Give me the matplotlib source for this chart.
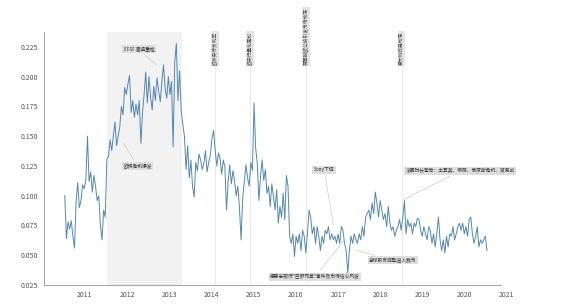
import numpy as np
import pandas as pd
import matplotlib
matplotlib.use('Agg')
import matplotlib.pyplot as plt

plt.rcParams['font.family'] = ['Noto Sans CJK SC', 'DejaVu Sans']

# biweekly index values, mid 2010 -> mid 2020
start = '2010-07-11'
values = [
    0.100, 0.064, 0.078, 0.072, 0.079, 0.066, 0.056, 0.095, 0.111, 0.090,
    0.096, 0.109, 0.106, 0.113, 0.150, 0.112, 0.120, 0.103, 0.117, 0.108,
    0.096, 0.100, 0.075, 0.063, 0.088, 0.082, 0.131, 0.133, 0.147, 0.138,
    0.150, 0.162, 0.142, 0.150, 0.158, 0.175, 0.168, 0.191, 0.185, 0.194,
    0.201, 0.170, 0.180, 0.166, 0.177, 0.168, 0.180, 0.144, 0.170, 0.185,
    0.204, 0.178, 0.200, 0.183, 0.172, 0.192, 0.180, 0.199, 0.188, 0.179,
    0.196, 0.210, 0.190, 0.182, 0.200, 0.185, 0.196, 0.141, 0.212, 0.228,
    0.180, 0.205, 0.172, 0.160, 0.150, 0.122, 0.142, 0.115, 0.130, 0.108,
    0.099, 0.128, 0.121, 0.135, 0.130, 0.122, 0.127, 0.138, 0.120, 0.128,
    0.134, 0.148, 0.155, 0.138, 0.125, 0.136, 0.131, 0.118, 0.130, 0.124,
    0.088, 0.112, 0.126, 0.110, 0.121, 0.112, 0.100, 0.108, 0.090, 0.063,
    0.098, 0.112, 0.126, 0.115, 0.108, 0.128, 0.121, 0.178, 0.140, 0.127,
    0.096, 0.116, 0.130, 0.113, 0.122, 0.102, 0.108, 0.091, 0.110, 0.099,
    0.088, 0.105, 0.077, 0.091, 0.082, 0.102, 0.080, 0.117, 0.108, 0.066,
    0.060, 0.068, 0.049, 0.066, 0.060, 0.068, 0.054, 0.071, 0.066, 0.052,
    0.068, 0.088, 0.082, 0.068, 0.074, 0.060, 0.074, 0.066, 0.054, 0.066,
    0.060, 0.071, 0.068, 0.074, 0.063, 0.068, 0.063, 0.066, 0.060, 0.068,
    0.060, 0.074, 0.071, 0.060, 0.054, 0.035, 0.054, 0.066, 0.060, 0.068,
    0.063, 0.060, 0.068, 0.063, 0.074, 0.066, 0.082, 0.085, 0.088, 0.080,
    0.094, 0.085, 0.103, 0.094, 0.082, 0.096, 0.088, 0.080, 0.085, 0.074,
    0.091, 0.077, 0.071, 0.074, 0.066, 0.071, 0.074, 0.080, 0.071, 0.082,
    0.096, 0.068, 0.080, 0.074, 0.077, 0.068, 0.077, 0.074, 0.081, 0.080,
    0.071, 0.066, 0.074, 0.068, 0.063, 0.074, 0.071, 0.060, 0.068, 0.057,
    0.068, 0.082, 0.063, 0.054, 0.063, 0.052, 0.066, 0.057, 0.068, 0.066,
    0.074, 0.063, 0.068, 0.074, 0.077, 0.071, 0.077, 0.068, 0.074, 0.066,
    0.080, 0.082, 0.068, 0.060, 0.066, 0.074, 0.057, 0.063, 0.060, 0.063,
    0.066, 0.054,
]

shade_span = (2011.52, 2013.30)

# vertical event markers (year, label)
event_years = [2014.08, 2014.91, 2016.24, 2018.51]
event_labels = ['欧洲央行负利率', '欧央行量化宽松', '英国脱欧公投引发市场动荡', '意大利政局动荡']

# callouts: text, text position (year, value), target point (year, value)
note_texts = ['EFSF 遭遇重挫', '欧债危机爆发', 'Sony下调',
              '德意志银行"巨额罚单"事件及市场信心风波',
              '全球股市调整进入熊市',
              '法国财长警告：土耳其、伊朗、俄罗斯危机、贸易战']
note_xy = [(2012.28, 0.223), (2012.25, 0.125), (2016.67, 0.122),
           (2016.45, 0.032), (2018.3, 0.046), (2019.9, 0.121)]
note_targets = [(2012.75, 0.208), (2011.88, 0.146), (2016.9, 0.073),
                (2017.2, 0.065), (2017.35, 0.055), (2018.51, 0.096)]

dates = pd.date_range(start=start, periods=len(values), freq='14D')
years = dates.year + (dates.dayofyear - 1) / 365.25

fig = plt.figure(figsize=(5.75, 3.06), dpi=100)
ax = fig.add_axes([0.0765, 0.0686, 0.805, 0.827])

ax.axvspan(*shade_span, color='#f2f2f2', zorder=0, lw=0)
ax.plot(years, values, color='#5387b0', lw=0.7, zorder=3)

for yr, lab in zip(event_years, event_labels):
    ax.plot([yr, yr], [0.025, 0.2095], color='#e6e6e6', lw=0.6, zorder=1)
    ax.text(yr, 0.2098, lab, rotation=90, ha='center', va='bottom', fontsize=3.4,
            color='#444444', clip_on=False, zorder=4,
            bbox=dict(boxstyle='square,pad=0.25', fc='#e3e3e3', ec='none'))

for txt, xy, tgt in zip(note_texts, note_xy, note_targets):
    ax.annotate(txt, xy=tgt, xytext=xy, fontsize=3.4, color='#333333',
                ha='center', va='center', zorder=5,
                bbox=dict(boxstyle='square,pad=0.3', fc='#dedede', ec='none'),
                arrowprops=dict(arrowstyle='-', color='#cccccc', lw=0.5))

ax.set_xlim(2010.03, 2021.0)
ax.set_ylim(0.025, 0.2376)
ax.set_xticks(range(2011, 2022))
ax.set_yticks(np.arange(0.025, 0.226, 0.025))
ax.set_yticklabels(['%.3f' % v for v in np.arange(0.025, 0.226, 0.025)])
ax.tick_params(length=0, labelsize=5, colors='#555555', pad=4)
for s in ['top', 'right']:
    ax.spines[s].set_visible(False)
for s in ['left', 'bottom']:
    ax.spines[s].set_color('#aaaaaa')
    ax.spines[s].set_linewidth(0.8)
ax.spines['bottom'].set_bounds(2010.03, 2020.85)

fig.savefig('out.png', dpi=100)
